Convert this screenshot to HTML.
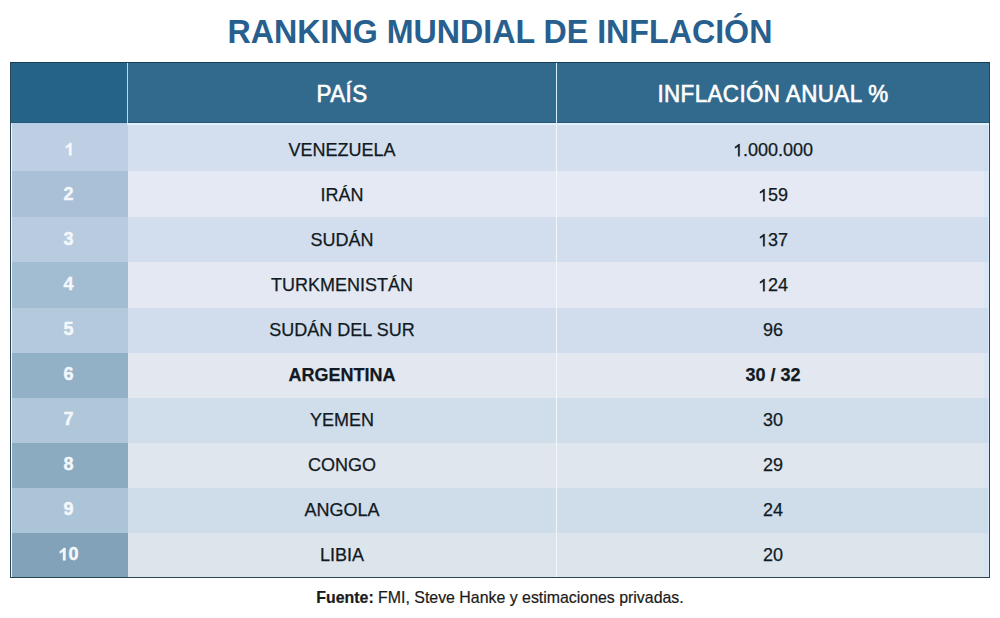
<!DOCTYPE html>
<html><head><meta charset="utf-8">
<style>
*{margin:0;padding:0;box-sizing:border-box}
html,body{width:1000px;height:618px;background:#fff;overflow:hidden}
body{position:relative;font-family:"Liberation Sans",sans-serif}
div{position:absolute}
.ct{text-align:center;white-space:nowrap}
</style></head><body>
<div class="ct" style="left:0px;width:1000px;top:16px;font-size:32.2px;line-height:32.2px;color:#27608e;font-weight:bold;transform:scaleY(1.045);transform-origin:50% 84.65%">RANKING MUNDIAL DE INFLACIÓN</div>
<div style="left:10px;top:62px;width:980px;height:516px;background:#2b4454;"></div>
<div style="left:10px;top:62px;width:980px;height:1px;background:#183e57;"></div>
<div style="left:11px;top:63px;width:978px;height:60px;background:#326a8d;"></div>
<div style="left:11px;top:63px;width:116px;height:60px;background:#256389;"></div>
<div style="left:11px;top:122px;width:978px;height:1px;background:#2f5575;"></div>
<div style="left:127px;top:63px;width:1px;height:60px;background:#b5dbf3;"></div>
<div style="left:556px;top:63px;width:1px;height:60px;background:#d8efff;"></div>
<div style="left:11px;top:123px;width:978px;height:2px;background:#def2fd;"></div>
<div style="left:12px;top:123px;width:115px;height:2px;background:#b6d1e7;"></div>
<div class="ct" style="left:128px;width:428px;top:84px;font-size:22.4px;line-height:22.4px;color:#fff;font-weight:normal;-webkit-text-stroke:0.6px #fff;letter-spacing:0.4px;transform:scaleY(1.04);transform-origin:50% 84.65%">PAÍS</div>
<div class="ct" style="left:557px;width:432px;top:84px;font-size:22.4px;line-height:22.4px;color:#fff;font-weight:normal;-webkit-text-stroke:0.6px #fff;letter-spacing:0.4px;transform:scaleY(1.04);transform-origin:50% 84.65%">INFLACIÓN ANUAL %</div>
<div style="left:11px;top:125px;width:978px;height:46px;background:#d3dfee;"></div>
<div style="left:11px;top:125px;width:117px;height:46px;background:#bfcfe3;"></div>
<div style="left:11px;top:171px;width:978px;height:46px;background:#e5e9f4;"></div>
<div style="left:11px;top:171px;width:117px;height:46px;background:#a9c0d6;"></div>
<div style="left:11px;top:217px;width:978px;height:45px;background:#d2deed;"></div>
<div style="left:11px;top:217px;width:117px;height:45px;background:#b8cbdf;"></div>
<div style="left:11px;top:262px;width:978px;height:46px;background:#e3e8f2;"></div>
<div style="left:11px;top:262px;width:117px;height:46px;background:#a2bcd2;"></div>
<div style="left:11px;top:308px;width:978px;height:45px;background:#d1ddec;"></div>
<div style="left:11px;top:308px;width:117px;height:45px;background:#b4c9dc;"></div>
<div style="left:11px;top:353px;width:978px;height:45px;background:#e2e7f0;"></div>
<div style="left:11px;top:353px;width:117px;height:45px;background:#92b1c7;"></div>
<div style="left:11px;top:398px;width:978px;height:45px;background:#d0ddeb;"></div>
<div style="left:11px;top:398px;width:117px;height:45px;background:#b0c7d9;"></div>
<div style="left:11px;top:443px;width:978px;height:45px;background:#e0e6ee;"></div>
<div style="left:11px;top:443px;width:117px;height:45px;background:#8babc1;"></div>
<div style="left:11px;top:488px;width:978px;height:45px;background:#cfdcea;"></div>
<div style="left:11px;top:488px;width:117px;height:45px;background:#acc4d7;"></div>
<div style="left:11px;top:533px;width:978px;height:44px;background:#dde5ec;"></div>
<div style="left:11px;top:533px;width:117px;height:44px;background:#81a2b9;"></div>
<div class="ct" style="left:11px;width:115px;top:140px;font-size:18px;line-height:18px;color:#f4f7fb;font-weight:bold;-webkit-text-stroke:0.45px #f4f7fb"><svg width="0.55615em" height="0.68799em" viewBox="0 0 1139 1409" style="vertical-align:baseline;fill:currentColor;overflow:visible"><path transform="matrix(1 0 0 -1 0 1409)" stroke="currentColor" stroke-width="51" d="M854 0H573V1010Q419 875 210 810V1055Q320 1090 449 1185T626 1409H854V0Z"/></svg></div>
<div class="ct" style="left:128px;width:428px;top:141px;font-size:18px;line-height:18px;color:#111a22;font-weight:normal;-webkit-text-stroke:0.25px #111a22">VENEZUELA</div>
<div class="ct" style="left:557px;width:432px;top:141px;font-size:18px;line-height:18px;color:#111a22;font-weight:normal;-webkit-text-stroke:0.25px #111a22"><svg width="0.55615em" height="0.68799em" viewBox="0 0 1139 1409" style="vertical-align:baseline;fill:currentColor;overflow:visible"><path transform="matrix(1 0 0 -1 0 1409)" stroke="currentColor" stroke-width="28" d="M583 0V1120Q520 1060 420 1000T223 915V1085Q370 1155 482 1255T640 1409H763V0Z"/></svg>.000.000</div>
<div class="ct" style="left:11px;width:115px;top:185px;font-size:18px;line-height:18px;color:#f4f7fb;font-weight:bold;-webkit-text-stroke:0.45px #f4f7fb">2</div>
<div class="ct" style="left:128px;width:428px;top:186px;font-size:18px;line-height:18px;color:#111a22;font-weight:normal;-webkit-text-stroke:0.25px #111a22">IRÁN</div>
<div class="ct" style="left:557px;width:432px;top:186px;font-size:18px;line-height:18px;color:#111a22;font-weight:normal;-webkit-text-stroke:0.25px #111a22"><svg width="0.55615em" height="0.68799em" viewBox="0 0 1139 1409" style="vertical-align:baseline;fill:currentColor;overflow:visible"><path transform="matrix(1 0 0 -1 0 1409)" stroke="currentColor" stroke-width="28" d="M583 0V1120Q520 1060 420 1000T223 915V1085Q370 1155 482 1255T640 1409H763V0Z"/></svg>59</div>
<div class="ct" style="left:11px;width:115px;top:230px;font-size:18px;line-height:18px;color:#f4f7fb;font-weight:bold;-webkit-text-stroke:0.45px #f4f7fb">3</div>
<div class="ct" style="left:128px;width:428px;top:231px;font-size:18px;line-height:18px;color:#111a22;font-weight:normal;-webkit-text-stroke:0.25px #111a22">SUDÁN</div>
<div class="ct" style="left:557px;width:432px;top:231px;font-size:18px;line-height:18px;color:#111a22;font-weight:normal;-webkit-text-stroke:0.25px #111a22"><svg width="0.55615em" height="0.68799em" viewBox="0 0 1139 1409" style="vertical-align:baseline;fill:currentColor;overflow:visible"><path transform="matrix(1 0 0 -1 0 1409)" stroke="currentColor" stroke-width="28" d="M583 0V1120Q520 1060 420 1000T223 915V1085Q370 1155 482 1255T640 1409H763V0Z"/></svg>37</div>
<div class="ct" style="left:11px;width:115px;top:275px;font-size:18px;line-height:18px;color:#f4f7fb;font-weight:bold;-webkit-text-stroke:0.45px #f4f7fb">4</div>
<div class="ct" style="left:128px;width:428px;top:276px;font-size:18px;line-height:18px;color:#111a22;font-weight:normal;-webkit-text-stroke:0.25px #111a22">TURKMENISTÁN</div>
<div class="ct" style="left:557px;width:432px;top:276px;font-size:18px;line-height:18px;color:#111a22;font-weight:normal;-webkit-text-stroke:0.25px #111a22"><svg width="0.55615em" height="0.68799em" viewBox="0 0 1139 1409" style="vertical-align:baseline;fill:currentColor;overflow:visible"><path transform="matrix(1 0 0 -1 0 1409)" stroke="currentColor" stroke-width="28" d="M583 0V1120Q520 1060 420 1000T223 915V1085Q370 1155 482 1255T640 1409H763V0Z"/></svg>24</div>
<div class="ct" style="left:11px;width:115px;top:320px;font-size:18px;line-height:18px;color:#f4f7fb;font-weight:bold;-webkit-text-stroke:0.45px #f4f7fb">5</div>
<div class="ct" style="left:128px;width:428px;top:321px;font-size:18px;line-height:18px;color:#111a22;font-weight:normal;-webkit-text-stroke:0.25px #111a22">SUDÁN DEL SUR</div>
<div class="ct" style="left:557px;width:432px;top:321px;font-size:18px;line-height:18px;color:#111a22;font-weight:normal;-webkit-text-stroke:0.25px #111a22">96</div>
<div class="ct" style="left:11px;width:115px;top:365px;font-size:18px;line-height:18px;color:#f4f7fb;font-weight:bold;-webkit-text-stroke:0.45px #f4f7fb">6</div>
<div class="ct" style="left:128px;width:428px;top:366px;font-size:18px;line-height:18px;color:#111a22;font-weight:bold;-webkit-text-stroke:0.25px #111a22">ARGENTINA</div>
<div class="ct" style="left:557px;width:432px;top:366px;font-size:18px;line-height:18px;color:#111a22;font-weight:bold;-webkit-text-stroke:0.25px #111a22">30 / 32</div>
<div class="ct" style="left:11px;width:115px;top:410px;font-size:18px;line-height:18px;color:#f4f7fb;font-weight:bold;-webkit-text-stroke:0.45px #f4f7fb">7</div>
<div class="ct" style="left:128px;width:428px;top:411px;font-size:18px;line-height:18px;color:#111a22;font-weight:normal;-webkit-text-stroke:0.25px #111a22">YEMEN</div>
<div class="ct" style="left:557px;width:432px;top:411px;font-size:18px;line-height:18px;color:#111a22;font-weight:normal;-webkit-text-stroke:0.25px #111a22">30</div>
<div class="ct" style="left:11px;width:115px;top:455px;font-size:18px;line-height:18px;color:#f4f7fb;font-weight:bold;-webkit-text-stroke:0.45px #f4f7fb">8</div>
<div class="ct" style="left:128px;width:428px;top:456px;font-size:18px;line-height:18px;color:#111a22;font-weight:normal;-webkit-text-stroke:0.25px #111a22">CONGO</div>
<div class="ct" style="left:557px;width:432px;top:456px;font-size:18px;line-height:18px;color:#111a22;font-weight:normal;-webkit-text-stroke:0.25px #111a22">29</div>
<div class="ct" style="left:11px;width:115px;top:500px;font-size:18px;line-height:18px;color:#f4f7fb;font-weight:bold;-webkit-text-stroke:0.45px #f4f7fb">9</div>
<div class="ct" style="left:128px;width:428px;top:501px;font-size:18px;line-height:18px;color:#111a22;font-weight:normal;-webkit-text-stroke:0.25px #111a22">ANGOLA</div>
<div class="ct" style="left:557px;width:432px;top:501px;font-size:18px;line-height:18px;color:#111a22;font-weight:normal;-webkit-text-stroke:0.25px #111a22">24</div>
<div class="ct" style="left:11px;width:115px;top:545px;font-size:18px;line-height:18px;color:#f4f7fb;font-weight:bold;-webkit-text-stroke:0.45px #f4f7fb"><svg width="0.55615em" height="0.68799em" viewBox="0 0 1139 1409" style="vertical-align:baseline;fill:currentColor;overflow:visible"><path transform="matrix(1 0 0 -1 0 1409)" stroke="currentColor" stroke-width="51" d="M854 0H573V1010Q419 875 210 810V1055Q320 1090 449 1185T626 1409H854V0Z"/></svg>0</div>
<div class="ct" style="left:128px;width:428px;top:546px;font-size:18px;line-height:18px;color:#111a22;font-weight:normal;-webkit-text-stroke:0.25px #111a22">LIBIA</div>
<div class="ct" style="left:557px;width:432px;top:546px;font-size:18px;line-height:18px;color:#111a22;font-weight:normal;-webkit-text-stroke:0.25px #111a22">20</div>
<div style="left:556px;top:125px;width:1px;height:452px;background:#f2f7fc;"></div>
<div style="left:11px;top:125px;width:1px;height:452px;background:#f4f9ff;"></div>
<div style="left:984px;top:125px;width:4px;height:452px;background:rgba(190,220,250,0.2);"></div>
<div style="left:988px;top:125px;width:1px;height:452px;background:#dcedf9;"></div>
<div class="ct" style="left:0px;width:1000px;top:590px;font-size:15.9px;line-height:16px;color:#1a1a1a;-webkit-text-stroke:0.2px #1a1a1a"><b>Fuente:</b> FMI, Steve Hanke y estimaciones privadas.</div>
</body></html>
